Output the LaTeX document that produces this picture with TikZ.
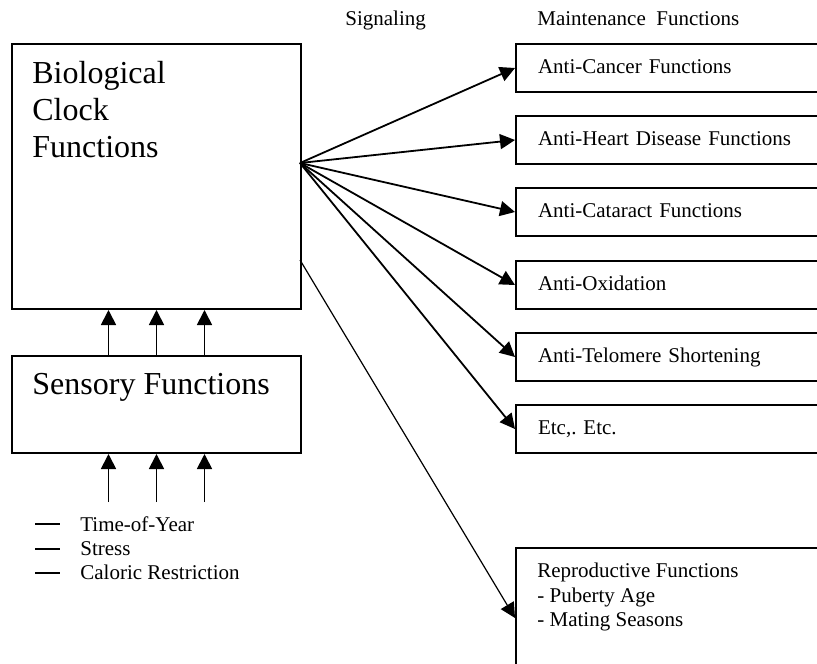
\documentclass[tikz,border=0pt]{standalone}
\usepackage{fontspec}
\setmainfont{Liberation Serif}
\usetikzlibrary{arrows.meta}
\frenchspacing
\newcommand{\boxfont}{\fontsize{10.5}{12.2}\selectfont}
\newcommand{\bigfont}{\fontsize{16}{18.5}\selectfont}
\newcommand{\dashitem}{\rule[3pt]{12.5pt}{1pt}\hspace{10pt}}

\begin{document}
\begin{tikzpicture}[x=0.5pt,y=-0.5pt,
    box/.style={draw,line width=1pt,inner sep=0pt,anchor=north west},
    func/.style={draw,line width=1pt,anchor=north west,align=left,
      text width=143pt,inner xsep=11pt,inner ysep=0pt,minimum height=24pt,
      text height=7.5pt,text depth=2pt,font=\boxfont},
    txt/.style={anchor=north west,inner sep=0pt,align=left},
    sig/.style={-{Triangle[length=7.5pt,width=7.5pt]},line width=0.9pt}]
  \useasboundingbox (0,0) rectangle (817,663);
  \clip (0,0) rectangle (817,663);
  % left column
  \node[box,minimum width=144.5pt,minimum height=132.5pt] (bio) at (11,43) {};
  \node[txt,font=\bigfont] (biotext) at (32,61)
    {Biological\\Clock\\Functions};
  \node[box,minimum width=144.5pt,minimum height=48.5pt] (sens) at (11,355) {};
  \node[txt,font=\bigfont] (senstext) at (32,373) {Sensory Functions};
  \node[txt,font=\boxfont] (inputs) at (35,516)
    {\dashitem Time-of-Year\\\dashitem Stress\\\dashitem Caloric Restriction};
  % headings
  \node[anchor=base west,inner sep=0pt,font=\boxfont] (sighead) at (345,26) {Signaling};
  \node[anchor=base west,inner sep=0pt,font=\boxfont] (mainthead) at (537,26)
    {Maintenance\ \ Functions};
  % right column
  \node[func] (cancer) at (515,43) {Anti-Cancer Functions};
  \node[func] (heart) at (515,115) {Anti-Heart Disease Functions};
  \node[func] (cataract) at (515,187) {Anti-Cataract Functions};
  \node[func] (oxid) at (515,260) {Anti-Oxidation};
  \node[func] (telomere) at (515,332) {Anti-Telomere Shortening};
  \node[func] (etcetera) at (515,404) {Etc,. Etc.};
  \node[box,minimum width=165pt,minimum height=70pt] (repro) at (515,547) {};
  \node[txt,font=\boxfont] (reprotext) at (537,563)
    {Reproductive Functions\\- Puberty Age\\- Mating Seasons};
  % connectors
  \coordinate (out) at (300,163);
  \coordinate (out2) at (300,260);
  \draw[sig] (out) -- (cancer.west);
  \draw[sig] (out) -- (heart.west);
  \draw[sig] (out) -- (cataract.west);
  \draw[sig] (out) -- (oxid.west);
  \draw[sig] (out) -- (telomere.west);
  \draw[sig] (out) -- (etcetera.west);
  \draw[sig,line width=0.6pt] (out2) -- (repro.west);
  \draw[sig] ([xshift=-24pt]sens.north) -- ([xshift=-24pt]bio.south);
  \draw[sig] (sens.north) -- (bio.south);
  \draw[sig] ([xshift=24pt]sens.north) -- ([xshift=24pt]bio.south);
  \draw[sig] ([xshift=-24pt,yshift=-24pt]sens.south) -- ([xshift=-24pt]sens.south);
  \draw[sig] ([yshift=-24pt]sens.south) -- (sens.south);
  \draw[sig] ([xshift=24pt,yshift=-24pt]sens.south) -- ([xshift=24pt]sens.south);
\end{tikzpicture}
\end{document}
